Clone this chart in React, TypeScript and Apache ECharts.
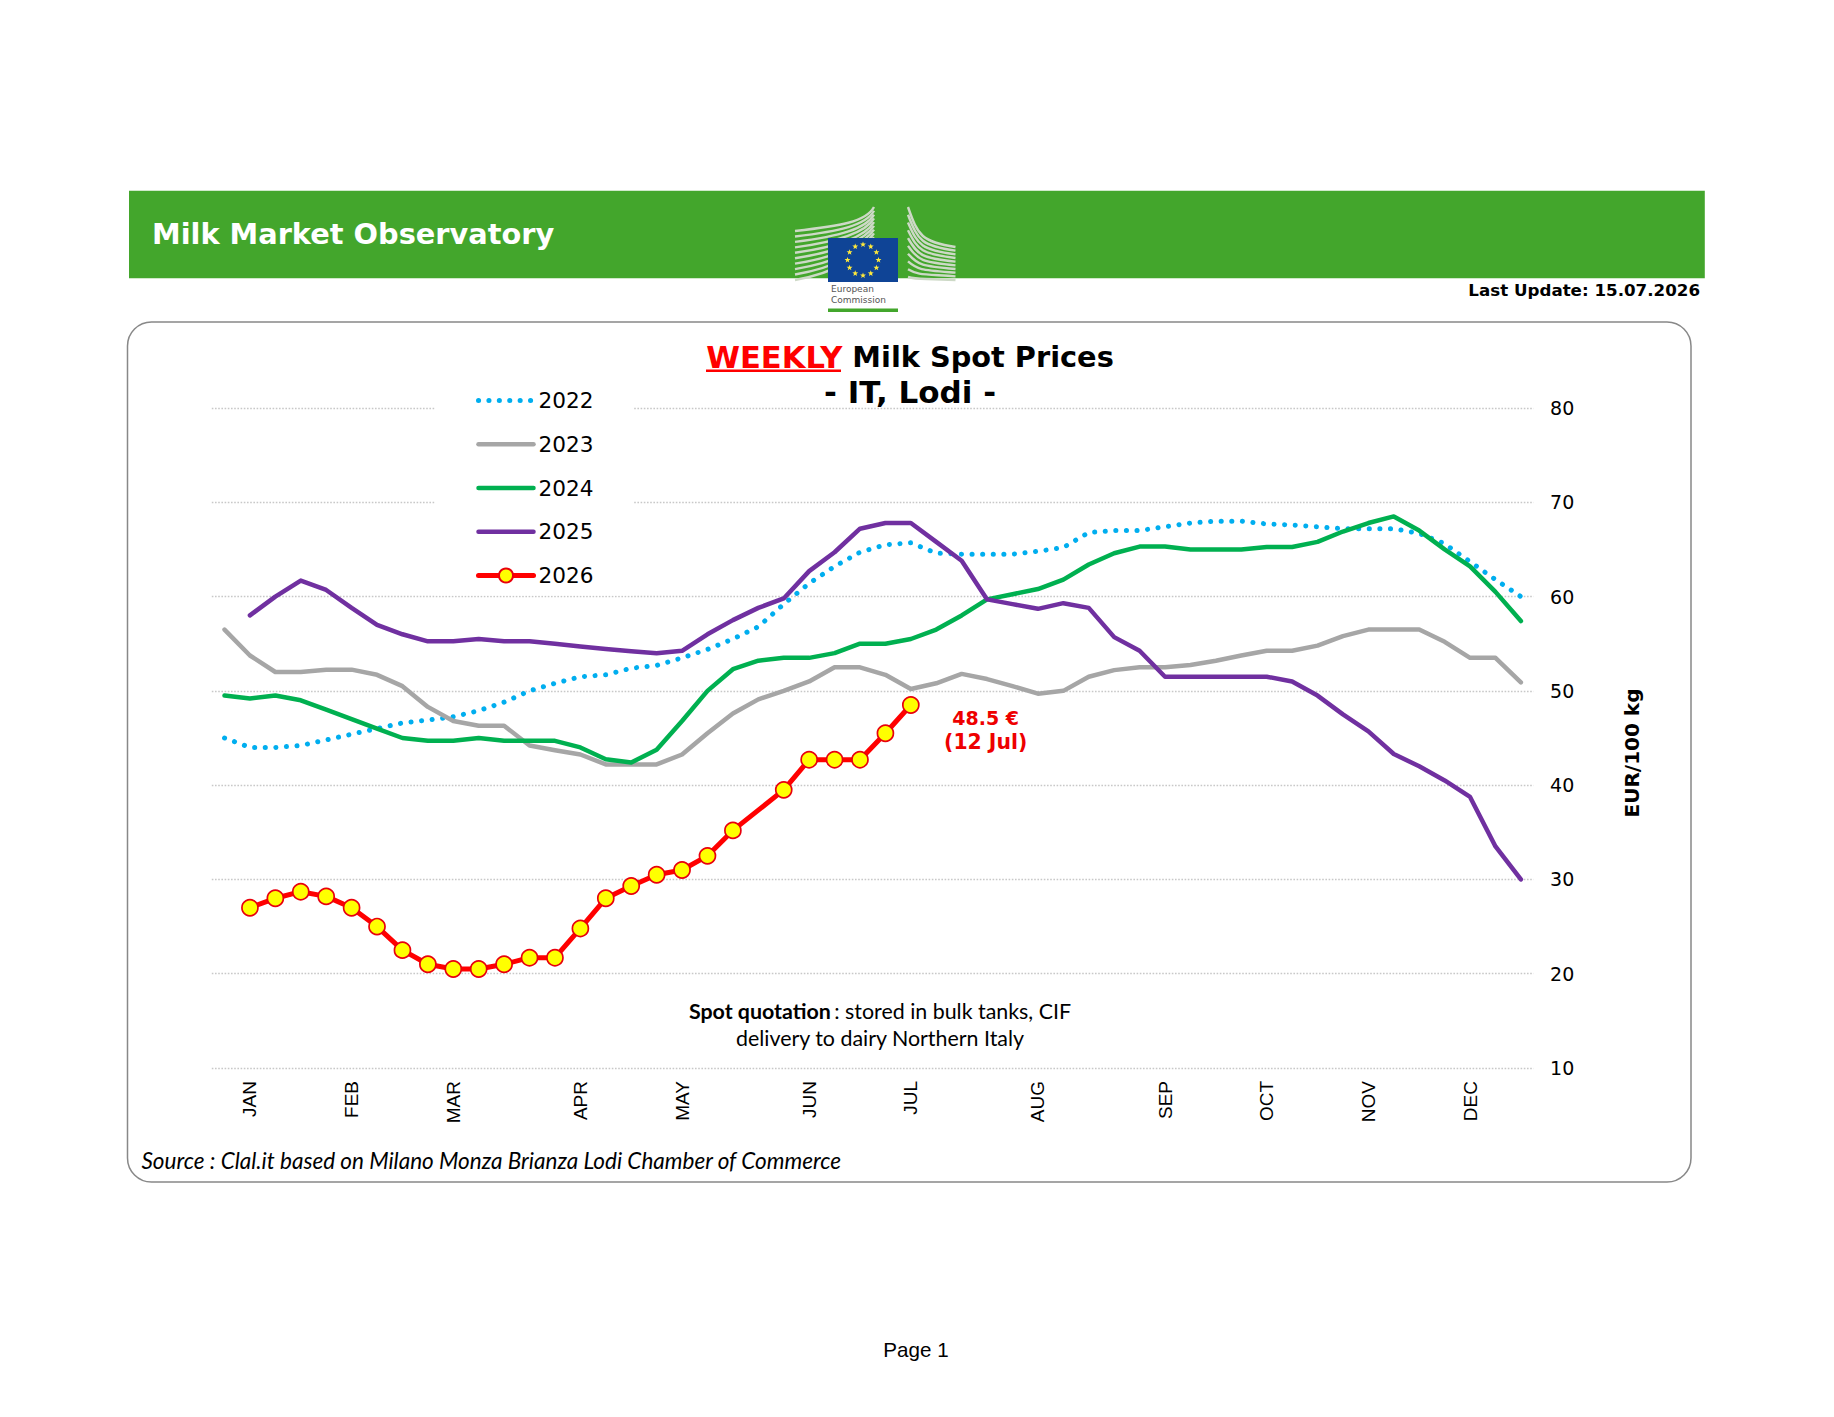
import React, { useEffect, useRef } from "react";
import * as echarts from "echarts";

const monthAt: Record<number, string> = { 1: "JAN", 5: "FEB", 9: "MAR", 14: "APR", 18: "MAY", 23: "JUN", 27: "JUL", 32: "AUG", 37: "SEP", 41: "OCT", 45: "NOV", 49: "DEC" };
const weeks = Array.from({ length: 52 }, (_, i) => monthAt[i] ?? "");
const years = ["2022", "2023", "2024", "2025", "2026"];
const s2022 = [45, 44, 44, 44.2, 44.8, 45.4, 46, 46.6, 46.9, 47.25, 47.9, 48.8, 50, 50.8, 51.5, 51.7, 52.4, 52.7, 53.5, 54.4, 55.5, 56.8, 59.2, 61.4, 63.2, 64.7, 65.5, 65.7, 64.6, 64.5, 64.5, 64.5, 64.8, 65.2, 66.8, 67, 67, 67.4, 67.8, 68, 68, 67.7, 67.6, 67.4, 67.2, 67.2, 67.2, 66.7, 65.6, 63.7, 61.8, 60];
const s2023 = [56.5, 53.75, 52, 52, 52.25, 52.25, 51.7, 50.5, 48.3, 46.8, 46.3, 46.3, 44.2, 43.7, 43.25, 42.2, 42.2, 42.2, 43.25, 45.5, 47.6, 49.1, 50, 51, 52.5, 52.5, 51.7, 50.2, 50.8, 51.8, 51.25, 50.5, 49.7, 50, 51.5, 52.2, 52.5, 52.5, 52.75, 53.2, 53.75, 54.25, 54.25, 54.8, 55.8, 56.5, 56.5, 56.5, 55.2, 53.5, 53.5, 50.9];
const s2024 = [49.5, 49.2, 49.5, 49, 48, 47, 46, 45, 44.7, 44.7, 45, 44.7, 44.7, 44.7, 44, 42.75, 42.4, 43.75, 46.8, 50, 52.3, 53.2, 53.5, 53.5, 54, 55, 55, 55.5, 56.5, 58, 59.7, 60.25, 60.8, 61.8, 63.4, 64.6, 65.3, 65.3, 65, 65, 65, 65.25, 65.25, 65.8, 66.9, 67.8, 68.5, 67, 65, 63.2, 60.5, 57.4];
const s2025 = [null, 58, 60, 61.7, 60.7, 58.8, 57, 56, 55.25, 55.25, 55.5, 55.25, 55.25, 55, 54.7, 54.45, 54.2, 54, 54.25, 56, 57.5, 58.8, 59.8, 62.7, 64.7, 67.2, 67.8, 67.8, 65.8, 63.8, 59.7, 59.2, 58.7, 59.3, 58.8, 55.7, 54.25, 51.5, 51.5, 51.5, 51.5, 51.5, 51, 49.5, 47.5, 45.7, 43.3, 42, 40.5, 38.75, 33.5, 30];
const s2026 = [null, 27, 28, 28.7, 28.2, 27, 25, 22.5, 21, 20.5, 20.5, 21, 21.7, 21.7, 24.8, 28, 29.3, 30.5, 31, 32.5, 35.2, null, 39.5, 42.7, 42.7, 42.7, 45.5, 48.5];

const VERDANA = "'DejaVu Sans', sans-serif";
const CAL = "Lato, sans-serif";

function star(cx: number, cy: number, r: number) {
  const pts: number[][] = [];
  for (let i = 0; i < 10; i++) {
    const a = -Math.PI / 2 + (i * Math.PI) / 5;
    const rr = i % 2 ? r * 0.42 : r;
    pts.push([cx + rr * Math.cos(a), cy + rr * Math.sin(a)]);
  }
  return pts;
}

function logo() {
  const els: any[] = [];
  const line = "#cdd9c6";
  for (let i = 0; i < 10; i++) {
    const t = i / 9;
    els.push({
      type: "bezierCurve", z: 3,
      shape: {
        x1: 795, y1: 231 + t * 49, x2: 874, y2: 207 + t * 34,
        cpx1: 840, cpy1: 226 + t * 46, cpx2: 866, cpy2: 222 + t * 30,
      },
      style: { stroke: line, lineWidth: 2.4, fill: "none" },
    });
    els.push({
      type: "bezierCurve", z: 3,
      shape: {
        x1: 908, y1: 207 + t * 70, x2: 955.5, y2: 247 + t * 33,
        cpx1: 918, cpy1: 236 + t * 44, cpx2: 922, cpy2: 242 + t * 36,
      },
      style: { stroke: line, lineWidth: 2.4, fill: "none" },
    });
  }
  els.push({ type: "rect", z: 4, shape: { x: 828, y: 238, width: 70, height: 44 }, style: { fill: "#0F4496" } });
  for (let i = 0; i < 12; i++) {
    const a = (i * Math.PI) / 6;
    els.push({
      type: "polygon", z: 5,
      shape: { points: star(863 + 15.5 * Math.sin(a), 260 - 15.5 * Math.cos(a), 3.1) },
      style: { fill: "#FFE93B" },
    });
  }
  els.push({ type: "text", z: 5, style: { x: 831, y: 284.5, text: "European", font: "9px " + VERDANA, fill: "#555555" } });
  els.push({ type: "text", z: 5, style: { x: 831, y: 295.5, text: "Commission", font: "9px " + VERDANA, fill: "#555555" } });
  els.push({ type: "rect", z: 5, shape: { x: 828, y: 308.5, width: 70, height: 3.5 }, style: { fill: "#43A62C" } });
  return els;
}

function buildOption() {
  const line = (name: string, data: (number | null)[], color: string, extra: any = {}) => ({
    name, type: "line", data, symbol: "none", smooth: false,
    lineStyle: { color, width: 4.5, cap: "round", join: "round" },
    itemStyle: { color },
    connectNulls: true,
    silent: true,
    ...extra,
  });
  const legendLine = (color: string, extra: any = {}) => ({ color, width: 4.5, cap: "round", ...extra });
  return {
    animation: false,
    backgroundColor: "#ffffff",
    grid: { left: 211.8, right: 300.4, top: 408, bottom: 349, containLabel: false },
    legend: {
      show: true, orient: "vertical", left: 435, top: 379.5,
      padding: [10, 39.5, 9, 41], backgroundColor: "#ffffff",
      itemWidth: 55, itemHeight: 17.5, itemGap: 21.75,
      textStyle: { fontFamily: VERDANA, fontSize: 21.6, color: "#000000" },
      data: [
        { name: "2022", itemStyle: { opacity: 0 }, lineStyle: legendLine("#00AEEF", { width: 5, type: [0.1, 10.3] }) },
        { name: "2023", itemStyle: { opacity: 0 }, lineStyle: legendLine("#A6A6A6") },
        { name: "2024", itemStyle: { opacity: 0 }, lineStyle: legendLine("#00B050") },
        { name: "2025", itemStyle: { opacity: 0 }, lineStyle: legendLine("#7030A0") },
        { name: "2026", lineStyle: legendLine("#FF0000", { width: 5 }) },
      ],
      selectedMode: false,
    },
    xAxis: {
      type: "category", data: weeks, boundaryGap: true,
      axisLine: { show: false }, axisTick: { show: false },
      axisLabel: { interval: 0, rotate: 90, margin: 13, padding: [2, 0, 0, 0], fontFamily: "'Liberation Sans', Arial, sans-serif", fontSize: 19, color: "#000000" },
    },
    yAxis: {
      type: "value", position: "right", min: 10, max: 80, interval: 10,
      axisLine: { show: false }, axisTick: { show: false },
      axisLabel: { margin: 16.5, fontFamily: VERDANA, fontSize: 19, color: "#000000" },
      splitLine: { show: true, lineStyle: { type: [1.6, 1.6], color: "#c8c8c8", width: 1.3 } },
    },
    series: [
      line(years[0], s2022, "#00AEEF", { lineStyle: { color: "#00AEEF", width: 5, cap: "round", type: [0.1, 10.5] } }),
      line(years[1], s2023, "#A6A6A6"),
      line(years[2], s2024, "#00B050"),
      line(years[3], s2025, "#7030A0"),
      line(years[4], s2026, "#FF0000", {
        symbol: "circle", symbolSize: 16, showSymbol: true, z: 3,
        lineStyle: { color: "#FF0000", width: 5, cap: "round", join: "round" },
        itemStyle: { color: "#FFFF00", borderColor: "#E8000D", borderWidth: 1.7 },
      }),
    ],
    title: {
      show: true, left: 905, top: 334.7, textAlign: "center",
      text: "{r|WEEKLY}{b| Milk Spot Prices}\n{c|- IT, Lodi -}",
      textStyle: {
        rich: {
          r: { fontFamily: VERDANA, fontWeight: "bold", fontSize: 30.6, color: "#FF0000", lineHeight: 35.2 },
          b: { fontFamily: VERDANA, fontWeight: "bold", fontSize: 28.8, color: "#000000", lineHeight: 35.2 },
          c: { fontFamily: VERDANA, fontWeight: "bold", fontSize: 31, color: "#000000", lineHeight: 35.2 },
        },
      },
    },
    graphic: [
      { type: "rect", z: 1, shape: { x: 129, y: 190.7, width: 1575.8, height: 87.6 }, style: { fill: "#43A62C" } },
      { type: "rect", z: 1, silent: true, shape: { x: 127.5, y: 322, width: 1563.5, height: 860, r: 24 }, style: { fill: "none", stroke: "#888888", lineWidth: 1.5 } },
      ...logo(),
      { type: "text", z: 6, style: { x: 152, y: 234, text: "Milk Market Observatory", font: "bold 28.8px " + VERDANA, fill: "#ffffff", textVerticalAlign: "middle" } },
      { type: "text", z: 6, style: { x: 1700, y: 290, text: "Last Update: 15.07.2026", font: "bold 16.7px " + VERDANA, fill: "#000000", textAlign: "right", textVerticalAlign: "middle" } },
      { type: "rect", z: 6, shape: { x: 706, y: 369.5, width: 135, height: 2.6 }, style: { fill: "#FF0000" } },
      { type: "text", z: 6, rotation: Math.PI / 2, x: 1631.5, y: 753, style: { x: 0, y: 0, text: "EUR/100 kg", font: "bold 20px " + VERDANA, fill: "#000000", textAlign: "center", textVerticalAlign: "middle" } },
      { type: "text", z: 6, style: { x: 985.7, y: 718, text: "48.5 €", font: "bold 19px " + VERDANA, fill: "#EE0000", textAlign: "center", textVerticalAlign: "middle" } },
      { type: "text", z: 6, style: { x: 985.7, y: 741.5, text: "(12 Jul)", font: "bold 20.4px " + VERDANA, fill: "#EE0000", textAlign: "center", textVerticalAlign: "middle" } },
      {
        type: "text", z: 6,
        style: {
          x: 880, y: 1011, text: "{b|Spot quotation} {n|: stored in bulk tanks, CIF}", textAlign: "center", textVerticalAlign: "middle",
          rich: {
            b: { fontFamily: CAL, fontWeight: "bold", fontSize: 21.4, fill: "#000000" },
            n: { fontFamily: CAL, fontSize: 21.4, fill: "#000000" },
          },
        },
      },
      { type: "text", z: 6, style: { x: 880, y: 1037.6, text: "delivery to dairy Northern Italy", font: "21.4px " + CAL, fill: "#000000", textAlign: "center", textVerticalAlign: "middle" } },
      { type: "text", z: 6, style: { x: 141.5, y: 1160, text: "Source : Clal.it based on Milano Monza Brianza Lodi Chamber of Commerce", font: "italic 22.5px " + CAL, fill: "#000000", textVerticalAlign: "middle" } },
      { type: "text", z: 6, style: { x: 916, y: 1349, text: "Page 1", font: "20.6px 'Liberation Sans', Arial, sans-serif", fill: "#000000", textAlign: "center", textVerticalAlign: "middle" } },
    ],
  };
}

export default function App() {
  const ref = useRef<HTMLDivElement>(null);
  useEffect(() => {
    document.body.style.margin = "0";
    const chart = echarts.init(ref.current!, undefined, { renderer: "svg" });
    chart.setOption(buildOption() as any);
    return () => chart.dispose();
  }, []);
  return <div ref={ref} style={{ position: "absolute", left: 0, top: 0, width: 1834, height: 1417 }} />;
}
